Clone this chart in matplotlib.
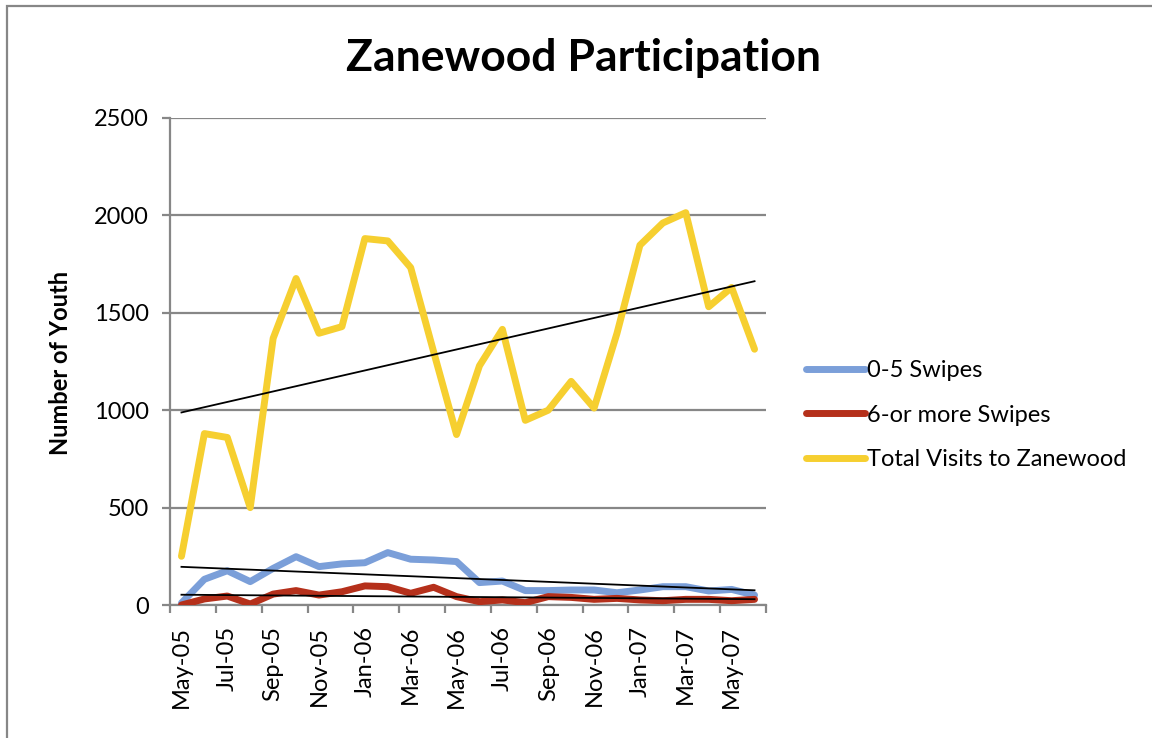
import matplotlib
matplotlib.use('Agg')
import matplotlib.pyplot as plt
import matplotlib.patches as patches
import numpy as np

plt.rcParams['font.family'] = ['Lato', 'DejaVu Sans']

months = ['May-05', 'Jun-05', 'Jul-05', 'Aug-05', 'Sep-05', 'Oct-05', 'Nov-05', 'Dec-05',
          'Jan-06', 'Feb-06', 'Mar-06', 'Apr-06', 'May-06', 'Jun-06', 'Jul-06', 'Aug-06',
          'Sep-06', 'Oct-06', 'Nov-06', 'Dec-06', 'Jan-07', 'Feb-07', 'Mar-07', 'Apr-07',
          'May-07', 'Jun-07']

swipes_0_5 = [10, 132, 176, 120, 188, 248, 197, 211, 217, 269, 235, 231, 223,
              115, 123, 74, 74, 77, 77, 63, 77, 94, 94, 72, 80, 51]
swipes_6_more = [0, 31, 46, 5, 56, 74, 51, 68, 98, 94, 60, 91, 43,
                 17, 26, 12, 43, 39, 29, 34, 26, 22, 29, 29, 22, 29]
total_visits = [250, 880, 860, 500, 1369, 1676, 1395, 1429, 1881, 1869, 1732, 1300, 875,
                1228, 1415, 948, 1000, 1148, 1011, 1395, 1847, 1961, 2014, 1531, 1630, 1313]

labels = ['0-5 Swipes', '6-or more Swipes', 'Total Visits to Zanewood']
colors = ['#7b9fd9', '#b5301b', '#f6cf30']

W, H = 1152, 738
fig = plt.figure(figsize=(W / 100, H / 100), dpi=100)
fig.patch.set_facecolor('white')
ax = fig.add_axes([170 / W, 1 - 605 / H, 596 / W, 487 / H])

x = np.arange(len(months))
for series, lab, col in zip([swipes_0_5, swipes_6_more, total_visits], labels, colors):
    ax.plot(x, series, color=col, lw=5, label=lab, solid_capstyle='round',
            solid_joinstyle='round', zorder=3)

# linear trendlines
for series in [swipes_0_5, swipes_6_more, total_visits]:
    k, b = np.polyfit(x, series, 1)
    ax.plot(x, k * x + b, color='black', lw=1.3, zorder=4)

gray = '#878787'
ax.set_xlim(-0.5, len(months) - 0.5)
ax.set_ylim(0, 2500)
ax.set_yticks(range(0, 2501, 500))
ax.yaxis.grid(True, color=gray, lw=1.6)
ax.set_axisbelow(True)
for s in ['top', 'right']:
    ax.spines[s].set_visible(False)
for s in ['left', 'bottom']:
    ax.spines[s].set_color(gray)
    ax.spines[s].set_linewidth(1.6)
ax.spines['bottom'].set_zorder(2)

ax.set_xticks(x[::2])
ax.set_xticklabels(months[::2], rotation=90)
ax.set_xticks(np.arange(-0.5, len(months), 2), minor=True)
ax.tick_params(axis='x', which='major', length=0, pad=15, labelsize=17)
ax.tick_params(axis='x', which='minor', length=6, width=1.6, color=gray)
ax.tick_params(axis='y', length=6, width=1.6, color=gray, pad=9, labelsize=17)

fig.text(583 / W, 1 - 58 / H, 'Zanewood Participation', ha='center', va='center',
         fontsize=32, fontweight='bold')
fig.text(60 / W, 1 - 363 / H, 'Number of Youth', ha='center', va='center',
         rotation=90, fontsize=17, fontweight='bold')

ax.legend(loc='center left', bbox_to_anchor=(806 / W, 1 - 415 / H),
          bbox_transform=fig.transFigure, frameon=False, fontsize=17,
          handlelength=2.5, handletextpad=0.1, labelspacing=1.0,
          borderaxespad=0, borderpad=0)

fig.patches.append(patches.Rectangle((7 / W, -0.1), 1.2, 1.1 - 6 / H,
                                     transform=fig.transFigure, fill=False,
                                     edgecolor=gray, lw=1.6))

plt.savefig('out.png', dpi=100)
plt.close(fig)
